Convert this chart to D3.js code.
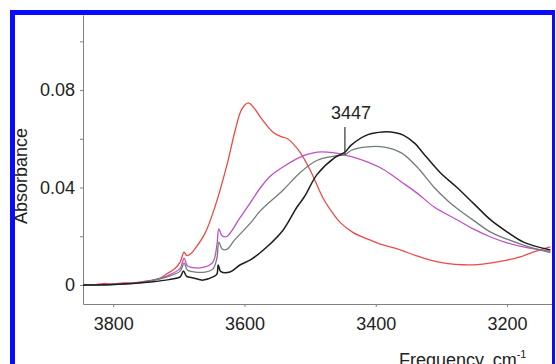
<!DOCTYPE html>
<html>
<head>
<meta charset="utf-8">
<script src="https://cdn.jsdelivr.net/npm/d3@7"></script>
<style>
  body { margin: 0; background: #fff; }
  svg { display: block; }
  text { font-family: "Liberation Sans", Arial, sans-serif; fill: #222; }
</style>
</head>
<body>
<div id="chart"></div>
<script>
// spectra: [frequency cm-1, absorbance]
const redSeries = [
  [3846, 0.0002], [3830, 0.0001], [3815, 0.0006], [3800, 0.0004], [3785, 0.0009],
  [3770, 0.0008], [3755, 0.0014], [3744, 0.0018], [3730, 0.0026], [3718, 0.0046],
  [3706, 0.0068], [3698, 0.0094], [3692, 0.0135], [3688, 0.0121], [3682, 0.0128],
  [3675, 0.015], [3660, 0.0213], [3645, 0.032], [3626, 0.050], [3614, 0.0636],
  [3604, 0.0722], [3594, 0.0747], [3585, 0.0725], [3576, 0.069], [3566, 0.0655],
  [3556, 0.0626], [3545, 0.061], [3535, 0.0601], [3526, 0.058], [3515, 0.0543],
  [3500, 0.0472], [3480, 0.0355], [3465, 0.0293], [3454, 0.0256], [3435, 0.0216],
  [3413, 0.0189], [3393, 0.0168], [3367, 0.0148], [3340, 0.0122], [3317, 0.0102],
  [3290, 0.0088], [3267, 0.0083], [3245, 0.0084], [3226, 0.009], [3200, 0.0102],
  [3180, 0.0115], [3160, 0.0135], [3134, 0.0156]
];
const magentaSeries = [
  [3846, 0.0], [3800, 0.0003], [3770, 0.0008], [3744, 0.0018], [3718, 0.0037],
  [3698, 0.0068], [3692, 0.011], [3687, 0.0079], [3675, 0.007], [3660, 0.0074],
  [3648, 0.0094], [3642, 0.0164], [3639, 0.023], [3634, 0.0202], [3627, 0.0199],
  [3607, 0.0275], [3591, 0.0338], [3576, 0.0398], [3560, 0.0448], [3541, 0.0485],
  [3515, 0.0525], [3489, 0.0545], [3463, 0.0542], [3447, 0.0533], [3437, 0.0527],
  [3413, 0.0505], [3387, 0.0472], [3361, 0.0423], [3337, 0.0377], [3311, 0.032],
  [3277, 0.0269], [3250, 0.0228], [3225, 0.0197], [3200, 0.0173], [3175, 0.0156],
  [3134, 0.0138]
];
const graySeries = [
  [3846, 0.0], [3800, 0.0002], [3770, 0.0007], [3744, 0.0016], [3718, 0.0033],
  [3698, 0.0057], [3692, 0.009], [3687, 0.0062], [3675, 0.0053], [3660, 0.0053],
  [3648, 0.0066], [3642, 0.011], [3639, 0.0176], [3634, 0.0148], [3627, 0.0146],
  [3615, 0.0185], [3591, 0.0254], [3576, 0.0304], [3541, 0.039], [3515, 0.0462],
  [3489, 0.0512], [3465, 0.0528], [3447, 0.0535], [3437, 0.0553], [3413, 0.0567],
  [3387, 0.0566], [3361, 0.0542], [3337, 0.0484], [3311, 0.0400], [3290, 0.0345],
  [3277, 0.0316], [3250, 0.0263], [3225, 0.0217], [3200, 0.0188], [3175, 0.0164],
  [3134, 0.0133]
];
const blackSeries = [
  [3846, 0.0], [3800, 0.0002], [3770, 0.0006], [3744, 0.0012], [3715, 0.0022],
  [3698, 0.0033], [3693, 0.0057], [3688, 0.0035], [3678, 0.0029], [3663, 0.002],
  [3648, 0.0033], [3642, 0.0045], [3640, 0.0082], [3636, 0.0055], [3622, 0.0053],
  [3607, 0.0082], [3591, 0.0103], [3566, 0.0156], [3541, 0.0226], [3520, 0.032],
  [3509, 0.0361], [3489, 0.0455], [3463, 0.0522], [3447, 0.0545], [3437, 0.0575],
  [3412, 0.0617], [3389, 0.0628], [3370, 0.0625], [3358, 0.0615], [3340, 0.058],
  [3328, 0.0542], [3302, 0.0462], [3277, 0.0402], [3250, 0.0332], [3225, 0.0267],
  [3200, 0.0218], [3175, 0.0176], [3134, 0.0144]
];

const xTicks = [3800, 3600, 3400, 3200];
const yTicks = [0, 0.02, 0.04, 0.06, 0.08, 0.10];
const yLabels = ['0', '', '0.04', '', '0.08', ''];
const markFreq = 3447;
const markAbs = 0.0535;

let width = 556;
let height = 364;

let svg = d3.select('#chart')
  .append('svg')
  .attr('width', width)
  .attr('height', height);

let xScale = d3.scaleLinear()
  .domain([3846, 3130])
  .range([83, 553]);

let yScale = d3.scaleLinear()
  .domain([-0.0078, 0.1108])
  .range([304, 15]);

let yAxis = d3.axisLeft(yScale)
  .tickValues(yTicks)
  .tickFormat((d, i) => yLabels[i])
  .tickSize(3)
  .tickSizeOuter(0)
  .tickPadding(5);

let xAxis = d3.axisBottom(xScale)
  .tickValues(xTicks)
  .tickFormat(d3.format('d'))
  .tickSize(3)
  .tickSizeOuter(0)
  .tickPadding(10);

let gy = svg.append('g')
  .attr('transform', 'translate(83, 0)')
  .call(yAxis);

let gx = svg.append('g')
  .attr('transform', 'translate(0, 304)')
  .call(xAxis);

[gx, gy].forEach(g => {
  g.selectAll('path, line').attr('stroke', '#808080');
  g.selectAll('text')
    .style('font-family', '"Liberation Sans", Arial, sans-serif')
    .style('font-size', '18px')
    .attr('fill', '#222');
});

let line = d3.line()
  .x(d => xScale(d[0]))
  .y(d => yScale(d[1]))
  .curve(d3.curveCatmullRom.alpha(0.5));

let series = [
  { data: redSeries, color: '#ee4a45', w: 1.3 },
  { data: magentaSeries, color: '#c24fc6', w: 1.3 },
  { data: graySeries, color: '#6f7d78', w: 1.3 },
  { data: blackSeries, color: '#1e1e1e', w: 1.5 }
];

svg.selectAll('path.spectrum')
  .data(series)
  .enter()
  .append('path')
  .attr('class', 'spectrum')
  .attr('fill', 'none')
  .attr('stroke', d => d.color)
  .attr('stroke-width', d => d.w)
  .attr('stroke-linejoin', 'round')
  .attr('d', d => line(d.data));

// isosbestic point marker
svg.append('line')
  .attr('x1', xScale(markFreq))
  .attr('x2', xScale(markFreq))
  .attr('y1', 127)
  .attr('y2', yScale(markAbs))
  .attr('stroke', '#333')
  .attr('stroke-width', 1.2);

svg.append('text')
  .attr('x', xScale(markFreq) + 6)
  .attr('y', 119)
  .attr('text-anchor', 'middle')
  .style('font-size', '18px')
  .text(markFreq);

svg.append('text')
  .attr('transform', 'translate(27, 176) rotate(-90)')
  .attr('text-anchor', 'middle')
  .style('font-size', '18px')
  .text('Absorbance');

// axis title sits partly below the bottom edge, as in the original
let xt = svg.append('text')
  .attr('x', 399)
  .attr('y', 366)
  .style('font-size', '18px')
  .text('Frequency, cm');
xt.append('tspan')
  .attr('dy', -8)
  .style('font-size', '11px')
  .text('-1');

// blue frame
svg.append('rect').attr('x', 10).attr('y', 10).attr('width', 5).attr('height', 354).attr('fill', '#0a0aff');
svg.append('rect').attr('x', 10).attr('y', 10).attr('width', 545).attr('height', 5).attr('fill', '#0a0aff');
svg.append('rect').attr('x', 552).attr('y', 10).attr('width', 3).attr('height', 354).attr('fill', '#0a0aff');
</script>
</body>
</html>
